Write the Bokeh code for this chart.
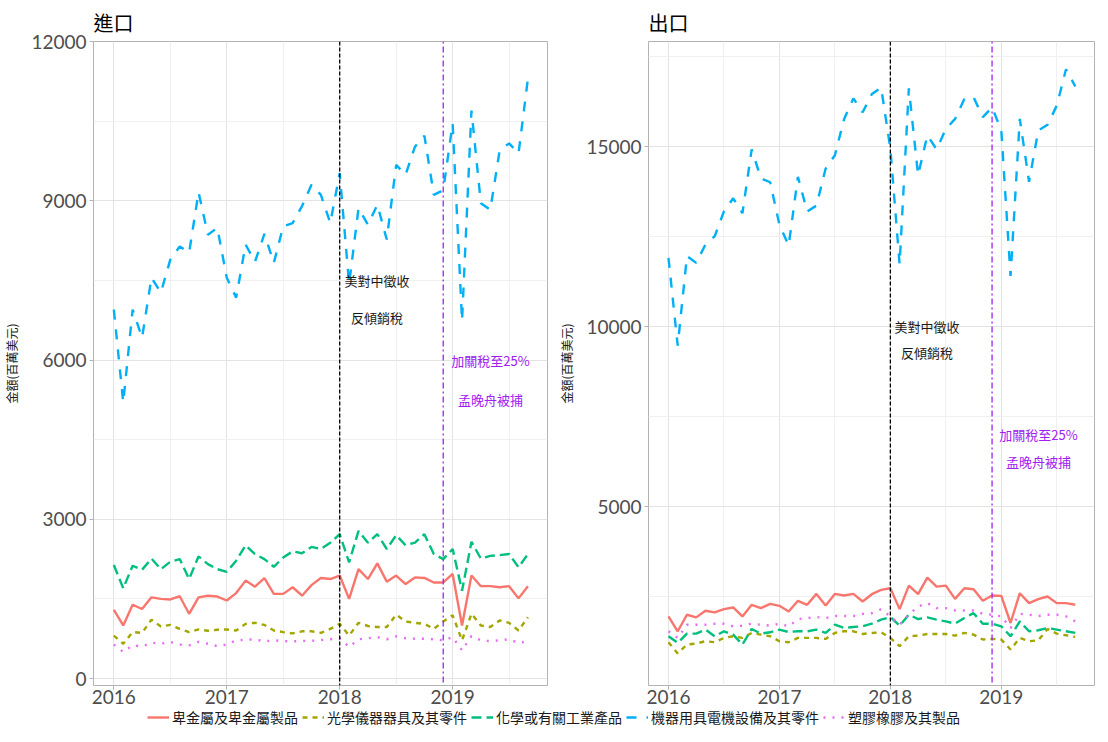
from bokeh.plotting import figure
from bokeh.models import FixedTicker, Span, Legend, LegendItem, Range1d
from bokeh.layouts import column, row
from bokeh.embed import file_html
from bokeh.resources import INLINE
from bokeh.core.properties import value

# ---------------- data ----------------
months = [f"{y}-{m:02d}" for y in range(2016, 2020) for m in range(1, 13)][:45]

series_names = ["卑金屬及卑金屬製品", "光學儀器器具及其零件", "化學或有關工業產品",
                "機器用具電機設備及其零件", "塑膠橡膠及其製品"]

# 進口 (imports), millions USD
imp_metal = [1295, 1000, 1390, 1310, 1530, 1500, 1490, 1550, 1220, 1530, 1560, 1545,
             1470, 1610, 1845, 1730, 1890, 1595, 1595, 1720, 1560, 1760, 1895, 1875,
             1940, 1500, 2060, 1875, 2170, 1825, 1940, 1780, 1905, 1895, 1810, 1810,
             1970, 1000, 1940, 1740, 1740, 1720, 1740, 1510, 1740]
imp_optical = [810, 655, 875, 860, 1110, 980, 1010, 935, 875, 925, 900, 920,
               925, 905, 1030, 1050, 1010, 905, 875, 850, 890, 890, 860, 935,
               1030, 810, 1050, 990, 970, 970, 1205, 1075, 1050, 1030, 935, 1075,
               1190, 720, 1220, 1000, 970, 1095, 1050, 905, 1155]
imp_chem = [2140, 1700, 2125, 2050, 2260, 2060, 2200, 2250, 1875, 2300, 2155, 2060,
            2010, 2220, 2510, 2345, 2250, 2105, 2280, 2395, 2360, 2480, 2440, 2556,
            2720, 2190, 2780, 2560, 2720, 2440, 2700, 2510, 2560, 2720, 2345, 2250,
            2440, 1655, 2575, 2260, 2310, 2325, 2345, 2095, 2345]
imp_mach = [6950, 5200, 6950, 6420, 7550, 7270, 7890, 8140, 8020, 9160, 8360, 8490,
            7550, 7175, 8175, 7850, 8375, 7830, 8520, 8580, 8900, 9300, 9110, 8580,
            9520, 7430, 8860, 8550, 8925, 8270, 9675, 9490, 10020, 10225, 9110, 9200,
            10455, 6740, 10700, 8955, 8830, 9955, 10080, 9890, 11300]
imp_plastic = [640, 500, 625, 605, 675, 655, 690, 640, 625, 690, 655, 610,
               640, 720, 730, 740, 700, 720, 705, 700, 710, 710, 725, 740,
               760, 595, 740, 760, 780, 740, 795, 760, 750, 750, 740, 720,
               780, 530, 800, 720, 705, 720, 740, 670, 700]

# 出口 (exports), millions USD
exp_metal = [1960, 1546, 2006, 1932, 2116, 2070, 2162, 2208, 1960, 2282, 2190, 2309,
             2254, 2098, 2392, 2282, 2585, 2263, 2585, 2539, 2585, 2374, 2576, 2695,
             2742, 2162, 2815, 2576, 3036, 2788, 2815, 2447, 2742, 2714, 2392, 2539,
             2530, 1776, 2604, 2328, 2438, 2512, 2328, 2328, 2282]
exp_optical = [1242, 929, 1178, 1206, 1270, 1242, 1362, 1408, 1362, 1500, 1454, 1408,
               1270, 1242, 1362, 1362, 1362, 1334, 1500, 1546, 1546, 1472, 1500, 1518,
               1362, 1132, 1408, 1426, 1472, 1472, 1472, 1426, 1500, 1454, 1316, 1334,
               1316, 1040, 1362, 1270, 1297, 1610, 1481, 1435, 1389]
exp_chem = [1408, 1224, 1481, 1481, 1592, 1408, 1546, 1454, 1177, 1610, 1481, 1518,
            1592, 1527, 1546, 1546, 1592, 1500, 1729, 1638, 1665, 1683, 1757, 1868,
            1941, 1702, 2006, 1886, 1932, 1868, 1822, 1757, 1914, 2049, 1757, 1757,
            1683, 1408, 1822, 1546, 1574, 1638, 1592, 1546, 1500]
exp_mach = [11920, 9480, 11970, 11780, 12290, 12520, 13210, 13575, 13160, 14935, 14130, 14020,
            12840, 12260, 14170, 13210, 13370, 14400, 14770, 15780, 16350, 15965, 16470, 16650,
            14955, 11740, 16630, 14220, 15320, 14935, 15500, 15780, 16330, 16380, 15830, 16100,
            15460, 11415, 15780, 14035, 15460, 15615, 16150, 17160, 16680]
exp_plastic = [1546, 1362, 1729, 1729, 1729, 1757, 1757, 1683, 1702, 1757, 1729, 1702,
               1757, 1683, 1886, 1914, 1941, 1914, 1969, 1969, 1969, 2031, 2049, 2159,
               1960, 1729, 2006, 2236, 2328, 2190, 2190, 2125, 2125, 2125, 2031, 2006,
               1960, 1638, 2031, 2006, 1969, 2006, 2006, 1960, 1822]

x_tick_labels = ["2016", "2017", "2018", "2019"]
imp_y_ticks = [0, 3000, 6000, 9000, 12000]
exp_y_ticks = [5000, 10000, 15000]

# events (vertical lines) and their notes
event_months = ["2018-01", "2018-12"]
note_text = ["美對中徵收", "反傾銷稅", "加關稅至25%", "孟晚舟被捕"]
note_x = [2018.33, 2018.33, 2019.335, 2019.335]
imp_note_y = [7500, 6800, 6000, 5250]
exp_note_y = [10000, 9300, 7000, 6250]

# ---------------- style ----------------
colors = ["#F8766D", "#A3A500", "#00BF7D", "#00B0F6", "#E76BF3"]
dashes = ["solid", "5 5", "10 5", "10 10", "2 7"]
note_colors = ["#1A1A1A", "#1A1A1A", "#A020F0", "#A020F0"]
event_colors = ["black", "#A020F0"]
event_dashes = ["4 2", "2 3 6 3"]
CJK = "Noto Sans CJK TC"
TICKFONT = "Lato"


def year_frac(s):
    y, m = s.split("-")
    return int(y) + (int(m) - 1) / 12.0


x = [year_frac(s) for s in months]


def make_panel(title, series, y_lo, y_hi, yticks, note_y, fw, bl, br):
    p = figure(frame_width=fw, frame_height=644, title=title, toolbar_location=None,
               output_backend="svg", x_range=Range1d(2015.82, 2019.84),
               y_range=Range1d(y_lo, y_hi),
               min_border_left=bl, min_border_right=br, min_border_top=34,
               min_border_bottom=20)
    p.background_fill_color = "white"
    p.border_fill_color = "white"
    p.outline_line_color = "#B3B3B3"
    p.outline_line_width = 1

    xt = FixedTicker(ticks=[int(t) for t in x_tick_labels],
                     minor_ticks=[int(t) + 0.5 for t in x_tick_labels] + [2015.5])
    step = yticks[1] - yticks[0]
    yt = FixedTicker(ticks=yticks,
                     minor_ticks=[t + step / 2 for t in yticks] + [yticks[0] - step / 2])
    p.xaxis.ticker = xt
    p.xgrid.ticker = xt
    p.yaxis.ticker = yt
    p.ygrid.ticker = yt
    p.xaxis.major_label_overrides = {int(t): t for t in x_tick_labels}
    p.yaxis.major_label_overrides = {t: str(t) for t in yticks}
    for g in (p.xgrid, p.ygrid):
        g.grid_line_color = "#E3E3E3"
        g.grid_line_width = 1
        g.minor_grid_line_color = "#F0F0F0"
        g.minor_grid_line_width = 1
    for ax in (p.xaxis, p.yaxis):
        ax.axis_line_color = None
        ax.major_tick_line_color = "#B3B3B3"
        ax.major_tick_out = 4
        ax.major_tick_in = 0
        ax.minor_tick_line_color = None
        ax.major_label_text_font = TICKFONT
        ax.major_label_text_font_size = "19px"
        ax.major_label_text_color = "#4D4D4D"
        ax.major_label_standoff = 3
    p.xaxis.major_label_standoff = 0
    p.yaxis.axis_label = "金額(百萬美元)"
    p.yaxis.axis_label_text_font = CJK
    p.yaxis.axis_label_text_font_size = "12px"
    p.yaxis.axis_label_text_font_style = "normal"
    p.yaxis.axis_label_text_color = "#1A1A1A"
    p.yaxis.axis_label_standoff = 8

    p.title.text_font = CJK
    p.title.text_font_size = "20px"
    p.title.text_font_style = "normal"
    p.title.text_color = "black"
    p.title.align = "left"
    p.title.offset = 0

    for vals, c, d in zip(series, colors, dashes):
        p.line(x, vals, line_color=c, line_width=2.4, line_dash=d)

    for em, c, d in zip(event_months, event_colors, event_dashes):
        p.add_layout(Span(location=year_frac(em), dimension="height", line_color=c,
                          line_dash=d, line_width=1.3))

    p.text(x=note_x, y=note_y, text=note_text, text_color=note_colors,
           text_align="center", text_baseline="middle",
           text_font=value(CJK), text_font_size=value("13px"))
    return p


left = make_panel("進口", [imp_metal, imp_optical, imp_chem, imp_mach, imp_plastic],
                  -131, 12000, imp_y_ticks, imp_note_y, 454, 89, 8)
right = make_panel("出口", [exp_metal, exp_optical, exp_chem, exp_mach, exp_plastic],
                   40, 17930, exp_y_ticks, exp_note_y, 446, 93, 2)

# legend strip
lg = figure(width=1092, height=21, toolbar_location=None, output_backend="svg",
            x_range=Range1d(0, 1), y_range=Range1d(0, 1), min_border=0,
            x_axis_location=None, y_axis_location=None)
lg.outline_line_color = None
lg.xgrid.visible = False
lg.ygrid.visible = False
items = []
for name, c, d in zip(series_names, colors, dashes):
    r = lg.line(x=[-2, -1], y=[-2, -1], line_color=c, line_width=2.4, line_dash=d)
    items.append(LegendItem(label=name, renderers=[r]))
legend = Legend(items=items, orientation="horizontal", location=(147, 0),
                label_text_font=CJK, label_text_font_size="14px",
                label_text_color="#1A1A1A", glyph_width=22, glyph_height=16,
                label_height=16, label_standoff=3, spacing=4, padding=0, margin=0,
                border_line_color=None, background_fill_alpha=0)
lg.add_layout(legend, "center")

layout = column(row(left, right), lg)
open("out.html", "w").write(file_html(layout, INLINE))
